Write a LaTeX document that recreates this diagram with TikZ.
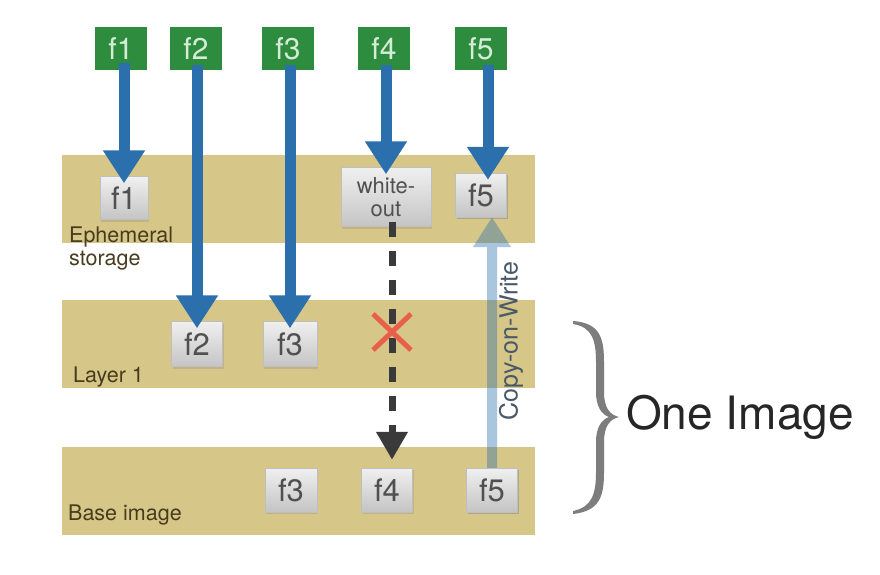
\documentclass[tikz,border=0pt]{standalone}
\usepackage{fontspec}
\setmainfont{TeX Gyre Heros}
\usetikzlibrary{arrows.meta,shadows,calc,shadings}
\definecolor{band}{RGB}{214,198,136}
\definecolor{gbox}{RGB}{46,140,62}
\definecolor{gtext}{RGB}{214,236,214}
\definecolor{barrow}{RGB}{43,111,173}
\definecolor{btext}{RGB}{80,80,80}
\definecolor{ltext}{RGB}{72,60,30}
\definecolor{redx}{RGB}{232,96,76}
\definecolor{dgray}{RGB}{58,58,58}
\definecolor{cowtext}{RGB}{74,88,104}
\definecolor{bracecol}{RGB}{125,125,125}
\tikzset{
  bandbox/.style={fill=band, draw=none, minimum width=473pt, minimum height=88pt, inner sep=0pt},
  greenbox/.style={fill=gbox, draw=none, minimum width=52pt, minimum height=43pt, inner sep=0pt, text=gtext, font=\fontsize{30}{32}\selectfont},
  graybox/.style={draw=black!25, line width=0.4pt, top color=black!6, bottom color=black!23, minimum width=51pt, minimum height=44pt, inner sep=0pt, text=btext, font=\fontsize{31}{33}\selectfont, drop shadow={opacity=0.25, shadow xshift=1pt, shadow yshift=-2pt}},
  layerlabel/.style={anchor=west, text=ltext, font=\fontsize{21.5}{23}\selectfont, inner sep=0pt},
  bluearr/.style={draw=barrow, line width=11pt, -{Triangle[width=40pt,length=33pt]}},
  cowarr/.style={draw=barrow, line width=10pt, -{Triangle[width=36pt,length=30pt]}},
  dasharr/.style={draw=dgray, line width=7pt, dash pattern=on 15pt off 14pt, -{Triangle[width=30pt,length=28pt]}},
  redcross/.style={draw=redx, line width=5pt}
}
\begin{document}
\begin{tikzpicture}[x=1pt,y=-1pt]
\useasboundingbox (0,0) rectangle (880,575);
\fill[white] (0,0) rectangle (880,575);
% bands
\node[bandbox] (beph) at (298.5,199) {};
\node[bandbox] (bl1) at (298.5,344) {};
\node[bandbox] (bbase) at (298.5,491) {};
% band labels
\node[layerlabel, align=left] (leph) at (69,249) {Ephemeral\\storage};
\node[layerlabel] (ll1) at (73,377) {Layer 1};
\node[layerlabel] (lbase) at (68,515) {Base image};
% copy-on-write arrow (behind boxes)
\node[graybox] (e5) at (481,195) {f5};
\node[graybox] (b5) at (492,490) {f5};
\begin{scope}[transparency group, opacity=0.4]
\draw[cowarr] (b5.north) -- (b5.north |- e5.south);
\end{scope}
\node[graybox] (b5) at (492,490) {f5};
\node[graybox] (e5) at (481,195) {f5};
\node[rotate=90, text=cowtext, font=\fontsize{25}{27}\selectfont, inner sep=0pt] (cow) at (511,341) {Copy-on-Write};
% green boxes
\node[greenbox] (g1) at (121,48.5) {f1};
\node[greenbox] (g2) at (196,48.5) {f2};
\node[greenbox] (g3) at (288,48.5) {f3};
\node[greenbox] (g4) at (384,48.5) {f4};
\node[greenbox] (g5) at (481,48.5) {f5};
% gray boxes
\node[graybox, minimum width=48pt, minimum height=43pt] (e1) at (124,198) {f1};
\node[graybox, minimum width=90pt, minimum height=59pt, align=center, font=\fontsize{22}{23}\selectfont] (wo) at (386,197) {white-\\out};
\node[graybox, minimum height=45pt] (l2) at (197,344) {f2};
\node[graybox, minimum width=54pt, minimum height=45pt] (l3) at (290,344) {f3};
\node[graybox, minimum width=52pt] (b3) at (291,490) {f3};
\node[graybox] (b4) at (387,490) {f4};
% blue arrows
\draw[bluearr] ([yshift=7pt]g1.south -| e1.north) -- ([yshift=-7pt]e1.north);
\draw[bluearr] ([yshift=5pt]g2.south -| l2.north) -- ([yshift=-7pt]l2.north);
\draw[bluearr] ([yshift=5pt]g3.south -| l3.north) -- ([yshift=-7pt]l3.north);
\draw[bluearr] ([yshift=5pt]g4.south -| wo.north) -- ([yshift=-7pt]wo.north);
\draw[bluearr] ([xshift=7pt,yshift=5pt]g5.south) -- ([xshift=7pt,yshift=-7pt]e5.north);
% dashed arrow through layer 1
\draw[dasharr] ([xshift=6pt,yshift=5pt]wo.south) -- ([xshift=5pt,yshift=8pt]b4.north);
% red cross
\coordinate (xc) at (392,332);
\draw[redcross] ($(xc)+(-19,-18)$) -- ($(xc)+(19,18)$);
\draw[redcross] ($(xc)+(-19,18)$) -- ($(xc)+(19,-18)$);
% brace
\coordinate (bracetip) at (619,417);
\fill[bracecol]
  (573,321) .. controls (600,323) and (604,338) .. (604,362) -- (604,392)
  .. controls (604,408) and (610,415) .. (bracetip)
  .. controls (610,419) and (604,426) .. (604,442) -- (604,472)
  .. controls (604,496) and (600,511) .. (573,514)
  -- (573,511) .. controls (592,507) and (596,494) .. (596,472) -- (596,442)
  .. controls (596,428) and (601,420) .. (609,417)
  .. controls (601,414) and (596,406) .. (596,392) -- (596,362)
  .. controls (596,340) and (592,327) .. (573,324) -- cycle;
\node[anchor=west, text=black!85, font=\fontsize{46}{48}\selectfont, inner sep=0pt] (one) at ([xshift=7pt]bracetip) {One Image};
\end{tikzpicture}
\end{document}
